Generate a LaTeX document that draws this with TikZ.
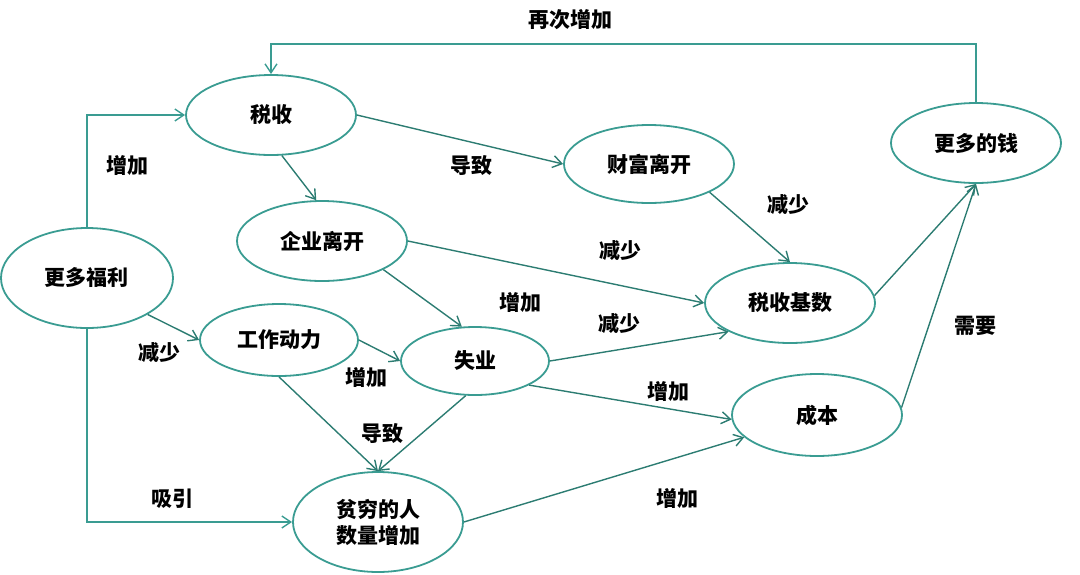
\documentclass[tikz,border=0pt]{standalone}
\usepackage{fontspec}
\setmainfont{Noto Sans CJK SC}
\usetikzlibrary{shapes.geometric,arrows.meta}
\definecolor{ringteal}{RGB}{58,156,146}
\definecolor{arrowteal}{RGB}{44,124,114}

\begin{document}
\begin{tikzpicture} [x = 1pt, y = -1pt, font = \fontsize{21pt}{26pt}\selectfont\bfseries,
	blob/.style = {ellipse, draw = ringteal, line width = 1.8pt, inner sep = 0pt, align = center},
	link/.style = {draw = arrowteal, line width = 1.4pt, -{Straight Barb[length=9pt, width=12pt]}},
	elbow/.style = {link, draw = ringteal},
	note/.style = {inner sep = 0pt}]
	\useasboundingbox (0,0) rectangle (1080,574);
	% ellipses
	\node [blob, minimum width = 172pt, minimum height = 100pt] (fl) at (87,278) {更多福利};
	\node [blob, minimum width = 170pt, minimum height = 80pt] (sx) at (271,115) {税收};
	\node [blob, minimum width = 170pt, minimum height = 80pt] (qy) at (322,241) {企业离开};
	\node [blob, minimum width = 170pt, minimum height = 78pt] (cf) at (649,164) {财富离开};
	\node [blob, minimum width = 170pt, minimum height = 80pt] (mq) at (976,143) {更多的钱};
	\node [blob, minimum width = 170pt, minimum height = 80pt] (sj) at (790,303) {税收基数};
	\node [blob, minimum width = 170pt, minimum height = 82pt] (cb) at (817,415) {成本};
	\node [blob, minimum width = 158pt, minimum height = 72pt] (gz) at (279,340) {工作动力};
	\node [blob, minimum width = 148pt, minimum height = 68pt] (sy) at (475,361) {失业};
	\node [blob, minimum width = 170pt, minimum height = 100pt] (pq) at (378,522) {贫穷的人\\数量增加};
	% connectors
	\coordinate (top) at (600,44);
	\draw [elbow] (fl.north) |- (sx.west);
	\draw [elbow] (fl.south) |- (pq.west);
	\draw [elbow] (mq.north) |- (top) -| (sx.north);
	\draw [link] (sx.-75) -- (qy.98);
	\draw [link] (sx.east) -- (cf.west);
	\draw [link] (cf.-25) -- (sj.north);
	\draw [link] (qy.east) -- (sj.west);
	\draw [link] (qy.-25) -- (sy.111);
	\draw [link] (fl.-31) -- (gz.west);
	\draw [link] (gz.east) -- (sy.west);
	\draw [link] (gz.south) -- (pq.north);
	\draw [link] (sy.-105) -- (pq.north);
	\draw [link] (sy.east) -- (sj.-155);
	\draw [link] (sy.-24) -- (cb.-177);
	\draw [link] (pq.east) -- (cb.-163);
	\draw [link] (sj.5) -- (mq.south);
	\draw [link] (cb.5) -- (mq.south);
	% labels
	\node [note] (lzj1) at (127,165) {增加};
	\node [note] (lzj2) at (570,20) {再次增加};
	\node [note] (ldz1) at (471,166) {导致};
	\node [note] (ljs1) at (788,205) {减少};
	\node [note] (ljs2) at (620,251) {减少};
	\node [note] (lzj3) at (520,302) {增加};
	\node [note] (ljs3) at (159,353) {减少};
	\node [note] (lzj4) at (366,377) {增加};
	\node [note] (ldz2) at (382,434) {导致};
	\node [note] (lxy) at (172,499) {吸引};
	\node [note] (ljs4) at (619,324) {减少};
	\node [note] (lzj5) at (668,391) {增加};
	\node [note] (lzj6) at (677,498) {增加};
	\node [note] (lxy2) at (975,326) {需要};
\end{tikzpicture}
\end{document}
